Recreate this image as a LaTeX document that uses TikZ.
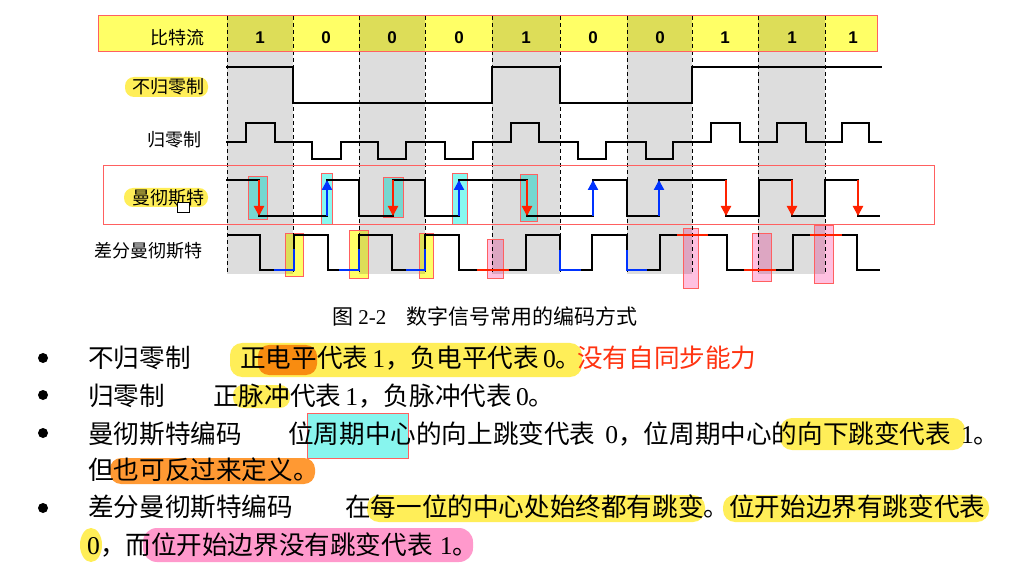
\documentclass[tikz,border=0pt]{standalone}
\usepackage{fontspec}
\usetikzlibrary{arrows.meta}
\setmainfont{Liberation Serif}
\newfontfamily\zhfont{Noto Sans CJK SC}
\newfontfamily\arialfont{Liberation Sans}
\newcommand\zh[1]{{\zhfont #1}}
\definecolor{graybg}{HTML}{DDDDDD}
\definecolor{hdrlight}{HTML}{FFFF66}
\definecolor{hdrdark}{HTML}{DDDD58}
\definecolor{boxred}{HTML}{FF6060}
\definecolor{arrred}{HTML}{FF2200}
\definecolor{arrblue}{HTML}{0033FF}
\definecolor{tealL}{HTML}{88F8F0}
\definecolor{tealD}{HTML}{76D7D0}
\definecolor{yelL}{HTML}{FFFF66}
\definecolor{yelD}{HTML}{DDDD58}
\definecolor{pinkL}{HTML}{FFC0E0}
\definecolor{pinkD}{HTML}{DDA6C2}
\definecolor{hlyellow}{HTML}{FFEE58}
\definecolor{hlorange}{HTML}{F88C10}
\definecolor{hlorange2}{HTML}{FF9933}
\definecolor{hlpink}{HTML}{FF99CC}
\definecolor{hlcyan}{HTML}{88F5EE}
\definecolor{redtext}{HTML}{FF3311}
\newcommand\grayshade{%
  \foreach \a/\b in {227/293,359/425,492/560,627/692,758/825}
    \fill[graybg] (\a,52) rectangle (\b,274);}
\newcommand\hlbox[6]{% x1 y1 x2 y2 light dark
  \fill[#5] (#1,#2) rectangle (#3,#4);
  \begin{scope}
    \clip (#1,#2) rectangle (#3,#4);
    \foreach \a/\b in {227/293,359/425,492/560,627/692,758/825}
      \fill[#6] (\a,52) rectangle (\b,274);
  \end{scope}
  \draw[boxred,line width=1pt] (#1,#2) rectangle (#3,#4);}
\begin{document}
\begin{tikzpicture}[x=1pt,y=-1pt,
  wave/.style={line width=1.1pt,line join=miter},
  redarrow/.style={draw=arrred,line width=2.2pt,-{Triangle[width=10pt,length=10pt]}},
  bluearrow/.style={draw=arrblue,line width=2.2pt,-{Triangle[width=10pt,length=10pt]}},
  redseg/.style={draw=arrred,line width=2.6pt},
  blueseg/.style={draw=arrblue,line width=2.6pt},
  lbl/.style={font=\zhfont\fontsize{18}{20}\selectfont,inner sep=0pt},
  digit/.style={font=\arialfont\bfseries\fontsize{17}{19}\selectfont,inner sep=0pt},
  body/.style={font=\fontsize{25.6}{28}\selectfont,inner sep=0pt,anchor=base west},
  hl/.style={rounded corners=10pt}]
\useasboundingbox (0,0) rectangle (1021,564);
\fill[white] (0,0) rectangle (1021,564);

% gray columns
\grayshade
% header
\fill[hdrlight] (98,16) rectangle (877,52);
\foreach \a/\b in {227/293,359/425,492/560,627/692,758/825}
  \fill[hdrdark] (\a,16) rectangle (\b,52);

% Manchester highlight boxes
\hlbox{248}{177}{267}{220}{tealL}{tealD}
\hlbox{321}{174}{332}{225}{tealL}{tealD}
\hlbox{383}{178}{403}{218}{tealL}{tealD}
\hlbox{452}{174}{467}{225}{tealL}{tealD}
\hlbox{520}{175}{537}{222}{tealL}{tealD}
% differential Manchester highlight boxes
\hlbox{285}{234}{303}{277}{yelL}{yelD}
\hlbox{349}{231}{368}{279}{yelL}{yelD}
\hlbox{419}{234}{433}{279}{yelL}{yelD}
\hlbox{487}{240}{503}{279}{pinkL}{pinkD}
\hlbox{683}{229}{698}{289}{pinkL}{pinkD}
\hlbox{752}{234}{771}{282}{pinkL}{pinkD}
\hlbox{814}{226}{833}{284}{pinkL}{pinkD}

% dashed bit boundaries
\foreach \x in {227,293,359,425,492,560,627,692,758,825}
  \draw[dashed,line width=0.9pt,dash pattern=on 4pt off 3pt] (\x,16) -- (\x,274);

\draw[boxred,line width=1pt] (98,16) rectangle (877,52);
\draw[boxred,line width=1pt] (103,166) rectangle (934,225);

% header labels
\node[lbl] (hbits) at (177,38) {比特流};
\foreach \c/\d [count=\i] in {260/1,326/0,392/0,459/0,526/1,593/0,660/0,725/1,792/1,853/1}
  \node[digit] (b\i) at (\c,38) {\d};

% row labels
\fill[hlyellow,rounded corners=9pt] (125,77) rectangle (208,97);
\node[lbl] (lnrz) at (168,87) {不归零制};
\node[lbl] (lrz) at (174,140) {归零制};
\fill[hlyellow,rounded corners=9pt] (124,188) rectangle (208,207);
\node[lbl] (lman) at (168,198) {曼彻斯特};
\draw[black,fill=white,line width=0.6pt] (177,202) rectangle (189,212);
\node[lbl] (ldm) at (148,251) {差分曼彻斯特};

% NRZ
\draw[wave] (226,67) -- (293,67) -- (293,103) -- (492,103) -- (492,67) -- (560,67)
  -- (560,103) -- (692,103) -- (692,67) -- (882,67);
% RZ
\draw[wave] (226,142) -- (246,142) -- (246,123) -- (275,123) -- (275,142) -- (312,142)
  -- (312,159) -- (341,159) -- (341,142) -- (378,142) -- (378,159) -- (406,159)
  -- (406,142) -- (445,142) -- (445,159) -- (473,159) -- (473,142) -- (511,142)
  -- (511,123) -- (539,123) -- (539,142) -- (578,142) -- (578,159) -- (606,159)
  -- (606,142) -- (646,142) -- (646,159) -- (673,159) -- (673,142) -- (711,142)
  -- (711,123) -- (740,123) -- (740,142) -- (777,142) -- (777,123) -- (806,123)
  -- (806,142) -- (842,142) -- (842,123) -- (869,123) -- (869,142) -- (882,142);
% Manchester
\draw[wave] (226,180) -- (259,180) -- (259,216) -- (327,216) -- (327,180) -- (359,180)
  -- (359,216) -- (393,216) -- (393,180) -- (425,180) -- (425,216) -- (459,216)
  -- (459,180) -- (527,180) -- (527,216) -- (593,216) -- (593,180) -- (627,180)
  -- (627,216) -- (659,216) -- (659,180) -- (726,180) -- (726,216) -- (759,216)
  -- (759,180) -- (792,180) -- (792,216) -- (825,216) -- (825,180) -- (858,180)
  -- (858,216) -- (880,216);
\foreach \x in {259,393,527,726,792,858} \draw[redarrow] (\x,180) -- (\x,216);
\foreach \x in {327,459,593,659} \draw[bluearrow] (\x,216) -- (\x,180);
% Differential Manchester
\draw[wave] (228,235) -- (260,235) -- (260,270) -- (294,270) -- (294,235) -- (328,235)
  -- (328,270) -- (359,270) -- (359,235) -- (392,235) -- (392,270) -- (425,270)
  -- (425,235) -- (459,235) -- (459,270) -- (526,270) -- (526,235) -- (560,235)
  -- (560,270) -- (592,270) -- (592,235) -- (627,235) -- (627,270) -- (660,270)
  -- (660,235) -- (727,235) -- (727,270) -- (793,270) -- (793,235) -- (857,235)
  -- (857,270) -- (880,270);
\draw[blueseg] (274,270) -- (294,270) -- (294,249);
\draw[blueseg] (339,270) -- (359,270) -- (359,249);
\draw[blueseg] (406,270) -- (425,270) -- (425,249);
\draw[blueseg] (560,250) -- (560,270) -- (581,270);
\draw[blueseg] (627,250) -- (627,270) -- (647,270);
\draw[redseg] (477,270) -- (509,270);
\draw[redseg] (677,235) -- (708,235);
\draw[redseg] (744,270) -- (776,270);
\draw[redseg] (810,235) -- (842,235);

% caption
\node[inner sep=0pt,anchor=base west,font=\fontsize{21}{24}\selectfont] (cap) at (332,324)
  {\zh{图} 2-2\hspace{20pt}\zh{数字信号常用的编码方式}};

% bullets
\foreach \y [count=\i] in {358,395,433,508}
  \fill[black] (43,\y) circle (5);

% highlights
\fill[hlyellow,rounded corners=12pt] (230,343) rectangle (582,377);
\fill[hlorange,rounded corners=11pt] (258,345) rectangle (317,375);
\fill[hlyellow,rounded corners=10pt] (233,385) rectangle (290,408);
\filldraw[fill=hlcyan,draw=boxred,line width=1pt] (307,413) rectangle (408,458);
\fill[hlyellow,rounded corners=12pt] (780,418) rectangle (965,450);
\fill[hlorange2,rounded corners=11pt] (110,458) rectangle (315,484);
\fill[hlyellow,rounded corners=12pt] (367,495) rectangle (705,522);
\fill[hlyellow,rounded corners=12pt] (723,495) rectangle (989,522);
\fill[hlyellow] (91,545) ellipse (11 and 17);
\fill[hlpink,rounded corners=14pt] (143,528) rectangle (473,562);

% text lines
\node[body] (h1) at (88,367) {\zh{不归零制}};
\node[body] (t1) at (240,367) {\zh{正电平代表}\,1\zh{，负电平代表}\,0\zh{。}};
\node[body,text=redtext] (t1r) at (577,367) {\zh{没有自同步能力}};
\node[body] (h2) at (88,405) {\zh{归零制}};
\node[body] (t2) at (213,405) {\zh{正脉冲代表}\,1\zh{，负脉冲代表}\,0\zh{。}};
\node[body] (h3) at (88,443) {\zh{曼彻斯特编码}};
\node[body] (t3) at (288,443) {\zh{位周期中心的向上跳变代表}\hspace{10pt}0\zh{，位周期中心的向下跳变代表}\hspace{10pt}1\zh{。}};
\node[body] (t4) at (88,479) {\zh{但也可反过来定义。}};
\node[body] (h5) at (88,516) {\zh{差分曼彻斯特编码}};
\node[body] (t5) at (345,516) {\zh{在每一位的中心处始终都有跳变。位开始边界有跳变代表}};
\node[body] (t6) at (87,554) {0\zh{，而位开始边界没有跳变代表}\hspace{7pt}1\zh{。}};
\end{tikzpicture}
\end{document}
